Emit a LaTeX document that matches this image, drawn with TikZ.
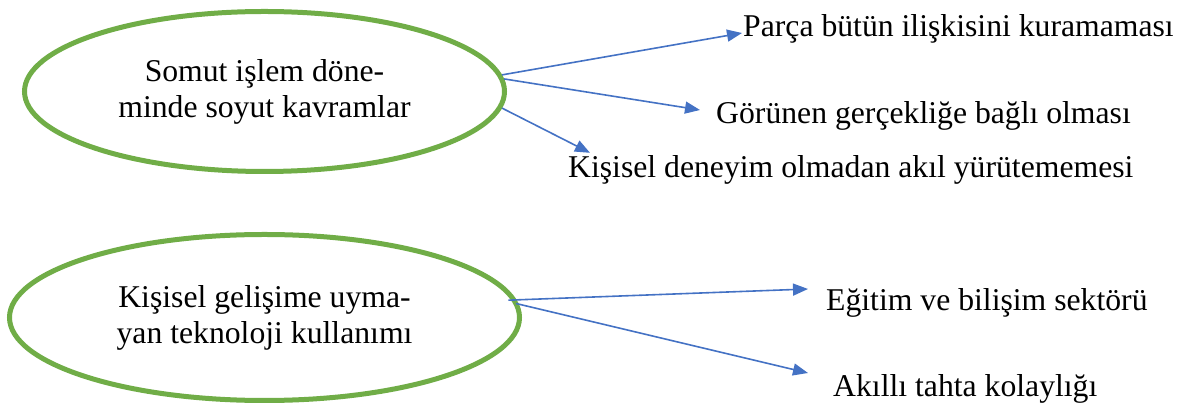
\documentclass[tikz,border=0pt]{standalone}
\usepackage{fontspec}
\setmainfont{Liberation Serif}
\usetikzlibrary{arrows.meta,shapes.geometric}
\definecolor{ovalgreen}{RGB}{112,173,71}
\definecolor{arrowblue}{RGB}{68,114,196}
\tikzstyle{oval}=[draw=ovalgreen, line width=5pt, ellipse, align=center, inner sep=0pt]
\tikzstyle{item}=[anchor=base west, inner sep=0pt, text height=22pt, text depth=7pt]
\tikzstyle{link}=[arrowblue, line width=1.6pt]

\begin{document}
\begin{tikzpicture}[x=1pt,y=1pt,>={Triangle[length=15pt,width=12pt]},font=\fontsize{31.7pt}{36pt}\selectfont]
	\useasboundingbox (0,0) rectangle (1181,406);
	\node [oval, minimum width=480pt, minimum height=160pt] (a) at (264.5,314.5) {Somut işlem döne-\\minde soyut kavramlar};
	\node [oval, minimum width=510pt, minimum height=166pt] (b) at (264.5,88.5) {Kişisel gelişime uyma-\\yan teknoloji kullanımı};
	\node [item] (a1) at (743,369) {Parça bütün ilişkisini kuramaması};
	\node [item] (a2) at (716,282) {Görünen gerçekliğe bağlı olması};
	\node [item] (a3) at (568,228) {Kişisel deneyim olmadan akıl yürütememesi};
	\node [item] (b1) at (826,95) {Eğitim ve bilişim sektörü};
	\node [item] (b2) at (833,9) {Akıllı tahta kolaylığı};
	\path[->, link]
	(a.4) edge ([xshift=-1pt,yshift=-3.5pt]a1.west)
	(a.3) edge ([xshift=-16pt,yshift=6.5pt]a2.west)
	(a.-4) edge ([xshift=22pt,yshift=3pt]a3.north west)
	(b.4) edge[shorten <=-8pt] ([xshift=-18pt,yshift=14.5pt]b1.west)
	(b.3) edge[shorten <=-3pt] ([xshift=-25pt,yshift=16.5pt]b2.west);
\end{tikzpicture}
\end{document}
